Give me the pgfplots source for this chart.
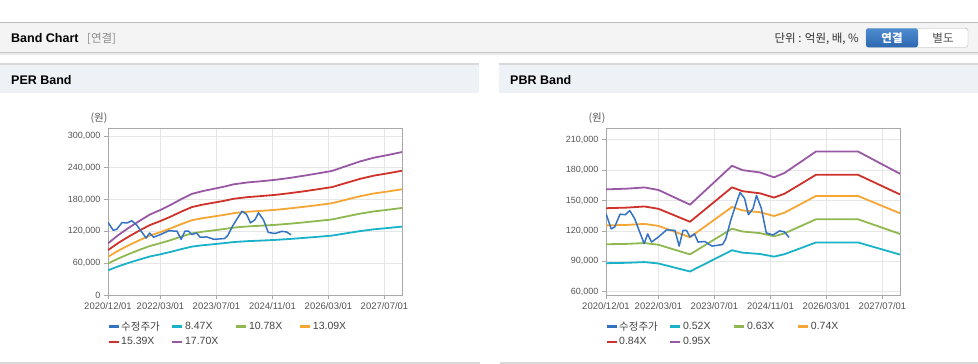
\documentclass[border=0pt]{standalone}
\usepackage{pgfplots}
\pgfplotsset{compat=1.18}
\usepackage{pgfplotstable}
\usepackage{fontspec}
\setmainfont{Liberation Sans}
\newfontfamily\cjk{Noto Sans CJK KR}
\definecolor{cPrice}{RGB}{52,114,196}
\definecolor{cCyan}{RGB}{26,178,200}
\definecolor{cGreen}{RGB}{143,185,80}
\definecolor{cOrange}{RGB}{245,166,52}
\definecolor{cRed}{RGB}{206,50,42}
\definecolor{cPurple}{RGB}{153,88,164}
\definecolor{hdrbg}{HTML}{F4F4F4}
\definecolor{hdrline}{HTML}{BBBBBB}
\definecolor{panelbg}{HTML}{EEF2F7}
\definecolor{panelline}{HTML}{D8D8D8}
\definecolor{gridc}{HTML}{E6E6E6}
\definecolor{axisc}{HTML}{A8A8A8}
\definecolor{tickc}{HTML}{555555}
\definecolor{legc}{HTML}{444444}

\pgfplotstableread{
m price
0 137000
1.5 122000
2.5 124000
4 136500
5.5 136000
6.8 140000
8.2 132000
9.5 120000
10.9 107500
11.9 117000
13 109000
15 114000
17.3 121000
19.7 120500
20.9 105000
22 120500
23 120500
24 114000
25.3 117000
26.3 109000
28.2 109500
30.3 105000
33.3 106500
34.2 112000
35.6 130000
37 145000
38.3 158000
39.6 152000
40.7 136000
42 142000
43 155000
44.4 142000
45.8 118000
47.7 116000
49.6 120000
51 119000
52.3 113500
}\pricetab

\pgfplotstableread{
m a b c d e
0 46600 59300 72000 84600 97400
3 54200 69000 83800 98500 113300
6 60800 77400 94000 110500 127100
9 66900 85200 103400 121600 139800
12 72700 92500 112300 132000 151900
15 76800 97800 118700 139600 160500
18 81500 103700 125900 148100 170300
21 86600 110300 133900 157400 181100
24 91300 116200 141100 165900 190800
27 93800 119300 144900 170400 195900
30 95700 121800 147900 173900 200000
33 97700 124300 150900 177400 204100
36 99900 127200 154500 181600 208900
40 101600 129400 157100 184700 212400
44 102700 130800 158800 186700 214700
48 104000 132400 160700 189000 217400
52 105700 134500 163400 192100 220900
56 107700 137000 166400 195600 225000
60 109800 139700 169600 199500 229400
64 112000 142500 173100 203500 234000
68 116300 148000 179700 211300 243000
72 120500 153400 186300 219000 251900
76 123900 157700 191500 225200 259000
80 126400 160800 195300 229600 264100
84 129000 164200 199400 234400 269600
}\pertab

\pgfplotstableread{
m a b c d e
0 88100 106800 125400 142400 161000
6 88500 107200 125900 143000 161700
11 89200 108000 126900 144100 162900
15 87800 106300 124900 141800 160400
24 79900 96800 113700 129000 145900
36 100900 122200 143600 163000 184300
39 98500 119400 140200 159200 180000
44 97200 117800 138400 157100 177700
48 94600 114700 134700 152900 172900
51 97000 117500 138000 156700 177200
60 108600 131500 154500 175400 198400
72 108600 131500 154500 175400 198400
84 96600 117000 137400 156000 176400
}\pbrtab

\pgfplotsset{
  bandaxis/.style={
    scale only axis, width=294pt, height=167pt,
    anchor=south west,
    xmin=0, xmax=84,
    xtick={0,15,31,47,63,79},
    xticklabels={2020/12/01,2022/03/01,2023/07/01,2024/11/01,2026/03/01,2027/07/01},
    tick pos=left,
    tick align=outside,
    major tick length=4pt,
    grid=major,
    major grid style={draw=gridc, line width=0.7pt},
    axis line style={draw=axisc, line width=0.9pt},
    tick style={draw=axisc, line width=0.7pt},
    ticklabel style={font=\fontsize{9}{10}\selectfont, text=tickc},
    xticklabel style={font=\fontsize{9.5}{10}\selectfont},
    scaled y ticks=false,
    /pgf/number format/assume math mode=true,
    yticklabel style={/pgf/number format/.cd, fixed, 1000 sep={,}},
    every axis plot/.append style={no markers, line join=round, sharp plot},
    legend columns=4,
    legend cell align=left,
    legend style={at={(axis description cs:-0.003,-0.148)}, anchor=north west,
      draw=none, fill=none, inner sep=0pt, row sep=3pt,
      font=\fontsize{10.5}{12}\selectfont, text=legc,
      nodes={inner sep=1.5pt}},
    legend image code/.code={\draw[##1, line width=2.4pt] (0pt,0pt) -- (10pt,0pt);},
  },
  band/.style={line width=1.8pt},
  pricest/.style={cPrice, line width=1.5pt},
}

\begin{document}
\begin{tikzpicture}
\path[use as bounding box] (0pt,0pt) rectangle (978pt,364pt);
\fill[white] (0pt,0pt) rectangle (978pt,364pt);
% top header
\fill[hdrbg] (0pt,311pt) rectangle (978pt,341.5pt);
\draw[hdrline, line width=1pt] (0pt,341.5pt) -- (978pt,341.5pt);
\draw[black!22, line width=1pt] (0pt,311.3pt) -- (978pt,311.3pt);
\draw[black!8, line width=1.5pt] (0pt,309.8pt) -- (978pt,309.8pt);
\node[anchor=base west, inner sep=0pt, font=\fontsize{12.5}{14}\selectfont\bfseries] at (11pt,321.3pt) {Band Chart};
\node[anchor=base west, inner sep=0pt, font=\fontsize{11.5}{14}\selectfont\cjk, text=black!45] at (87pt,321.3pt) {[연결]};
\node[anchor=base east, inner sep=0pt, font=\fontsize{11.5}{14}\selectfont\cjk, text=black!80] at (859pt,321.3pt) {단위 : 억원, 배, \%};
% buttons
\draw[black!30, fill=white, rounded corners=2.5pt] (866pt,316.7pt) rectangle (968pt,335.7pt);
\shade[top color={rgb,255:red,78;green,140;blue,208}, bottom color={rgb,255:red,44;green,104;blue,176}, rounded corners=2.5pt] (866pt,316.7pt) rectangle (918pt,335.7pt);
\node[font=\fontsize{11.5}{14}\selectfont\cjk\bfseries, text=white, inner sep=0pt] at (892pt,326.2pt) {연결};
\node[font=\fontsize{11.5}{14}\selectfont\cjk, text=black!70, inner sep=0pt] at (943pt,326.2pt) {별도};
% panel headers
\fill[panelbg] (0pt,271pt) rectangle (479pt,300pt);
\fill[panelbg] (499pt,271pt) rectangle (978pt,300pt);
\draw[panelline, line width=1.5pt] (0pt,300pt) -- (479pt,300pt);
\draw[panelline, line width=1.5pt] (499pt,300pt) -- (978pt,300pt);
\node[anchor=base west, inner sep=0pt, font=\fontsize{12.5}{14}\selectfont\bfseries] at (11pt,279.5pt) {PER Band};
\node[anchor=base west, inner sep=0pt, font=\fontsize{12.5}{14}\selectfont\bfseries] at (510pt,279.5pt) {PBR Band};
% panel bottoms
\draw[panelline, line width=2pt] (0pt,1pt) -- (480pt,1pt);
\draw[panelline, line width=2pt] (500pt,1pt) -- (978pt,1pt);
% unit labels
\node[font=\fontsize{10.5}{12}\selectfont\cjk, text=tickc, inner sep=0pt] at (99pt,245.7pt) {(원)};
\node[font=\fontsize{10.5}{12}\selectfont\cjk, text=tickc, inner sep=0pt] at (597pt,245.7pt) {(원)};

\begin{axis}[bandaxis, at={(108pt,69pt)}, ymin=0, ymax=315000, ytick={0,60000,120000,180000,240000,300000}]
\addlegendimage{pricest}
\addlegendentry{\makebox[48.5pt][l]{\cjk 수정주가}}
\addplot[band, cCyan] table[x=m,y=a]{\pertab};
\addlegendentry{\makebox[48.5pt][l]{8.47X}}
\addplot[band, cGreen] table[x=m,y=b]{\pertab};
\addlegendentry{\makebox[48.5pt][l]{10.78X}}
\addplot[band, cOrange] table[x=m,y=c]{\pertab};
\addlegendentry{\makebox[48.5pt][l]{13.09X}}
\addplot[band, cRed] table[x=m,y=d]{\pertab};
\addlegendentry{\makebox[48.5pt][l]{15.39X}}
\addplot[band, cPurple] table[x=m,y=e]{\pertab};
\addlegendentry{\makebox[48.5pt][l]{17.70X}}
\addplot[pricest, forget plot] table[x=m,y=price]{\pricetab};
\end{axis}

\begin{axis}[bandaxis, at={(606pt,69pt)}, ymin=56700, ymax=221600, ytick={60000,90000,120000,150000,180000,210000}]
\addlegendimage{pricest}
\addlegendentry{\makebox[48.5pt][l]{\cjk 수정주가}}
\addplot[band, cCyan] table[x=m,y=a]{\pbrtab};
\addlegendentry{\makebox[48.5pt][l]{0.52X}}
\addplot[band, cGreen] table[x=m,y=b]{\pbrtab};
\addlegendentry{\makebox[48.5pt][l]{0.63X}}
\addplot[band, cOrange] table[x=m,y=c]{\pbrtab};
\addlegendentry{\makebox[48.5pt][l]{0.74X}}
\addplot[band, cRed] table[x=m,y=d]{\pbrtab};
\addlegendentry{\makebox[48.5pt][l]{0.84X}}
\addplot[band, cPurple] table[x=m,y=e]{\pbrtab};
\addlegendentry{\makebox[48.5pt][l]{0.95X}}
\addplot[pricest, forget plot] table[x=m,y=price]{\pricetab};
\end{axis}
\end{tikzpicture}
\end{document}
